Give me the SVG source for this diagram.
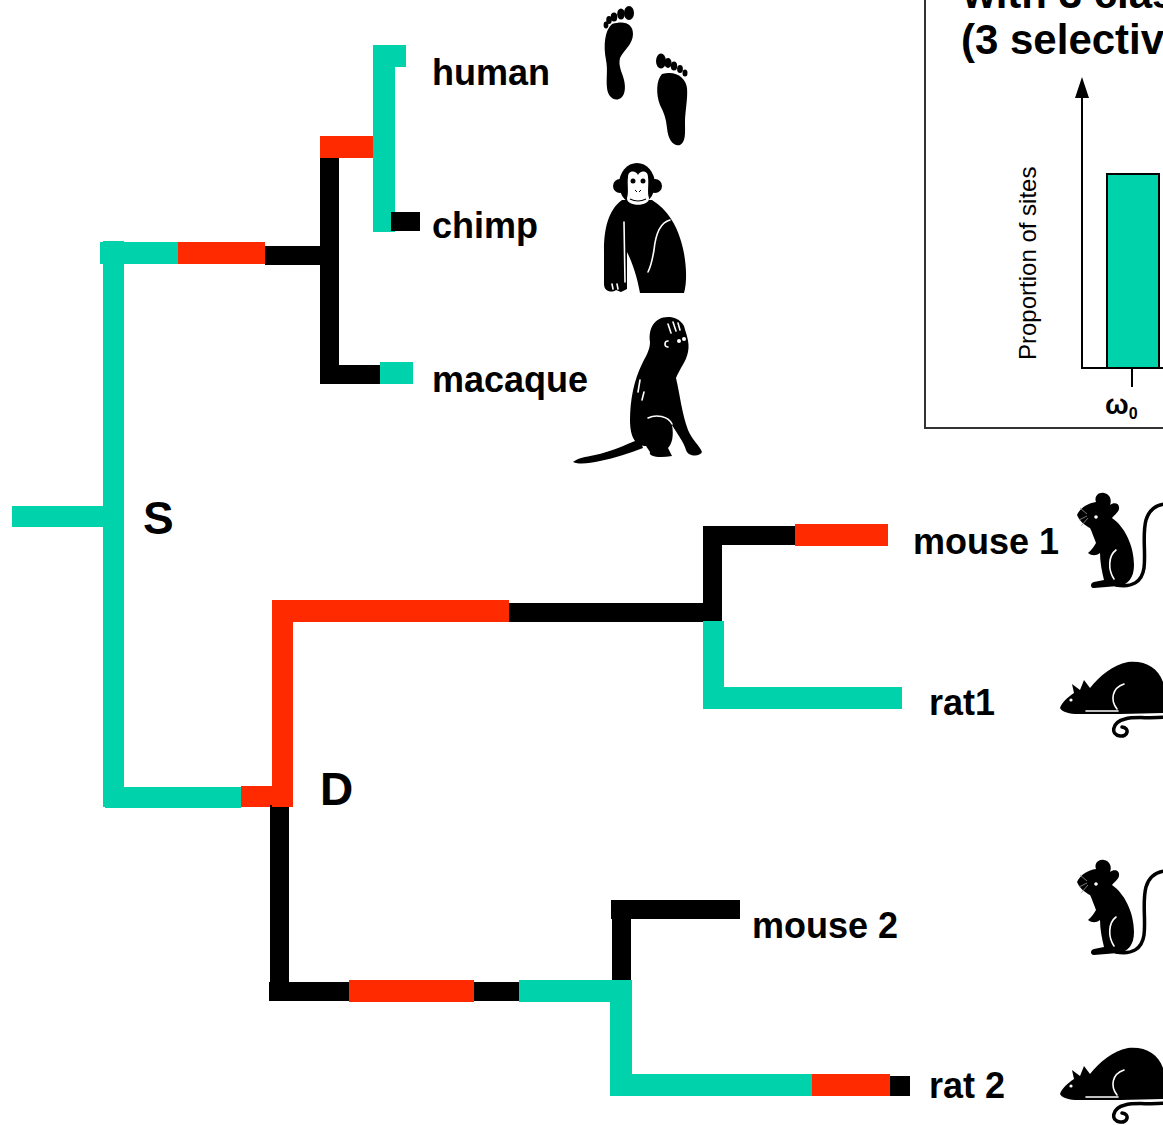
<svg xmlns="http://www.w3.org/2000/svg" width="1163" height="1125" viewBox="0 0 1163 1125">
  <style>
    .t { fill: #00D3AB; }
    .r { fill: #FF2A00; }
    .k { fill: #000000; }
    .lbl { font-family: "Liberation Sans", Arial, sans-serif; font-weight: bold; font-size: 36px; fill: #000; }
    .node { font-family: "Liberation Sans", Arial, sans-serif; font-weight: bold; font-size: 46px; fill: #000; }
    .title { font-family: "Liberation Sans", Arial, sans-serif; font-weight: bold; font-size: 42px; fill: #000; }
    .axis { stroke: #000; stroke-width: 2; fill: none; }
    .sil { fill: #000; }
    .wline { fill: none; stroke: #fff; stroke-width: 1.6; stroke-linecap: round; }
    .tail { fill: none; stroke: #000; stroke-width: 3.5; stroke-linecap: round; }
  </style>
  <defs>
    <marker id="arrow" markerUnits="userSpaceOnUse" markerWidth="22" markerHeight="14" refX="8" refY="7" orient="auto" viewBox="0 0 21 14">
      <path d="M0,0 L21,7 L0,14 Z" fill="#000"/>
    </marker>
    <!-- standing mouse silhouette -->
    <g id="mouse-shape">
      <path class="sil" d="M1077,515 C1080,508 1088,503 1096,502 C1094,497 1098,492 1104,493 C1110,494 1112,500 1110,505 C1114,502 1120,503 1119,509 C1118,513 1114,515 1112,518 C1124,526 1134,545 1134,565 C1134,578 1128,585 1118,586 L1094,588 C1090,588 1090,583 1094,582 L1104,580 C1102,572 1100,562 1100,553 C1096,556 1092,556 1088,553 C1092,550 1094,546 1096,543 C1094,538 1092,532 1090,528 C1086,526 1080,522 1077,515 Z"/>
      <path class="tail" d="M1116,585 C1132,588 1142,582 1144,568 C1146,552 1142,535 1146,520 C1149,510 1156,505 1165,504"/>
      <circle cx="1096" cy="517" r="1.8" fill="#fff"/>
      <path class="wline" stroke-width="2" d="M1114,579 C1108,570 1108,556 1116,550"/>
      <path d="M1080,508 L1087,514 M1079,520 L1087,516 M1081,526 L1088,518" stroke="#999" stroke-width="0.8" fill="none"/>
    </g>
    <!-- crouching rat silhouette -->
    <g id="rat-shape">
      <path class="sil" d="M1060,708 C1062,702 1068,697 1074,693 L1072,684 L1080,690 L1084,680 L1090,688 C1100,676 1112,665 1128,662 C1148,660 1162,670 1165,690 L1165,713 L1120,714 L1078,714 C1070,714 1062,712 1060,708 Z"/>
      <circle cx="1071" cy="700" r="1.6" fill="#fff"/>
      <path class="wline" stroke-width="2.5" d="M1117,709 C1110,700 1112,688 1124,684"/>
      <path class="wline" stroke-width="1.5" d="M1086,711 L1118,711"/>
      <path class="tail" d="M1165,717 C1150,719 1135,716 1125,719 C1112,722 1110,735 1120,736 C1128,737 1130,728 1122,727"/>
    </g>
  </defs>

  <rect width="1163" height="1125" fill="#fff"/>

  <!-- branches of the gene tree, coloured by selective regime -->
  <g id="connectors">
    <rect class="t" x="12" y="506" width="93" height="21"/>
    <rect class="t" x="103" y="241" width="21" height="566"/>
    <rect class="t" x="100" y="242" width="78" height="22"/>
    <rect class="r" x="178" y="242" width="87" height="22"/>
    <rect class="k" x="265" y="246" width="74" height="19"/>
    <rect class="k" x="320" y="137" width="19" height="247"/>
    <rect class="r" x="320" y="136" width="56" height="22"/>
    <rect class="t" x="373" y="45" width="22" height="187"/>
    <rect class="t" x="373" y="45" width="33" height="22"/>
    <rect class="k" x="391" y="212" width="29" height="19"/>
    <rect class="k" x="321" y="365" width="59" height="19"/>
    <rect class="t" x="380" y="362" width="33" height="22"/>

    <rect class="t" x="105" y="787" width="136" height="21"/>
    <rect class="r" x="241" y="786" width="49" height="21"/>
    <rect class="k" x="270" y="805" width="19" height="196"/>
    <rect class="r" x="272" y="600" width="21" height="207"/>
    <rect class="r" x="272" y="600" width="237" height="22"/>
    <rect class="k" x="509" y="603" width="213" height="19"/>
    <rect class="k" x="703" y="526" width="19" height="96"/>
    <rect class="k" x="704" y="526" width="91" height="19"/>
    <rect class="r" x="795" y="524" width="93" height="22"/>
    <rect class="t" x="703" y="621" width="21" height="88"/>
    <rect class="t" x="703" y="687" width="199" height="22"/>

    <rect class="k" x="269" y="982" width="80" height="19"/>
    <rect class="r" x="349" y="980" width="125" height="22"/>
    <rect class="k" x="474" y="982" width="45" height="19"/>
    <rect class="t" x="519" y="980" width="113" height="22"/>
    <rect class="k" x="612" y="900" width="19" height="80"/>
    <rect class="k" x="611" y="900" width="129" height="19"/>
    <rect class="t" x="610" y="1002" width="22" height="94"/>
    <rect class="t" x="611" y="1074" width="201" height="22"/>
    <rect class="r" x="812" y="1074" width="78" height="22"/>
    <rect class="k" x="890" y="1076" width="20" height="20"/>
  </g>

  <!-- internal nodes -->
  <g id="node-S"><text class="node" x="143" y="534">S</text></g>
  <g id="node-D"><text class="node" x="320" y="805">D</text></g>

  <!-- leaves -->
  <g id="leaf-human">
    <text class="lbl" x="432" y="85">human</text>
    <path class="sil" d="M612,24 C605,30 603,45 606,60 C608,70 606,78 607,88 C608,97 614,101 619,99 C625,97 626,88 624,80 C622,72 618,66 620,58 C624,50 633,44 633,34 C633,24 625,20 612,24 Z"/>
    <ellipse class="sil" cx="629" cy="13" rx="5" ry="7"/>
    <ellipse class="sil" cx="621" cy="14" rx="3.8" ry="5.5"/>
    <ellipse class="sil" cx="614" cy="17" rx="3.3" ry="4.5"/>
    <ellipse class="sil" cx="609" cy="20" rx="2.8" ry="4"/>
    <ellipse class="sil" cx="606" cy="25" rx="2.4" ry="3.4"/>
    <path class="sil" d="M662,74 C656,80 656,95 660,105 C664,113 666,118 667,128 C668,140 674,147 680,145 C686,142 685,132 685,122 C685,112 688,98 687,88 C686,78 676,70 662,74 Z"/>
    <ellipse class="sil" cx="661" cy="61" rx="5" ry="7.5"/>
    <ellipse class="sil" cx="668" cy="63" rx="3.6" ry="5"/>
    <ellipse class="sil" cx="674" cy="66" rx="3.2" ry="4.5"/>
    <ellipse class="sil" cx="680" cy="69" rx="2.9" ry="4"/>
    <ellipse class="sil" cx="685" cy="73" rx="2.5" ry="3.5"/>
  </g>

  <g id="leaf-chimp">
    <text class="lbl" x="432" y="238">chimp</text>
    <path class="sil" d="M622,200 C608,210 604,230 604,250 L604,284 C604,292 612,293 616,290 L621,292 L627,289 L627,252 C632,262 637,276 640,293 L684,293 C688,280 686,255 680,238 C676,225 668,210 652,200 Z"/>
    <ellipse class="sil" cx="637" cy="184" rx="18" ry="21"/>
    <circle class="sil" cx="620" cy="186" r="7"/>
    <circle class="sil" cx="655" cy="186" r="7"/>
    <path fill="#fff" d="M628,177 C628,170 636,170 638,175 C640,170 648,170 648,177 C649,184 647,192 649,198 C650,207 626,207 627,198 C629,192 627,184 628,177 Z"/>
    <circle class="sil" cx="633" cy="181" r="2.5"/>
    <circle class="sil" cx="643" cy="181" r="2.5"/>
    <path d="M635,190 L637,192 M641,190 L639,192" stroke="#000" stroke-width="1"/>
    <path d="M630,199 Q638,203 646,199" stroke="#000" stroke-width="1.2" fill="none"/>
    <path class="wline" d="M624,222 L625,282"/>
    <path class="wline" d="M670,220 C662,222 656,230 654,250 C652,262 650,268 648,272"/>
    <path class="wline" stroke-width="1" d="M612,284 L613,289 M617,284 L618,289"/>
  </g>

  <g id="leaf-macaque">
    <text class="lbl" x="432" y="392">macaque</text>
    <path class="sil" d="M668,317 C655,317 648,328 650,342 C650,350 646,356 642,364 C634,380 630,400 630,420 C630,438 636,446 646,446 L650,452 C648,457 660,458 672,456 L668,448 C672,444 674,436 672,425 C676,432 684,442 686,450 C688,457 700,457 702,452 C700,446 692,440 688,430 C682,414 680,395 676,378 C680,368 686,362 688,352 C690,342 686,334 684,326 C680,319 674,317 668,317 Z"/>
    <path class="sil" d="M640,439 C625,445 610,452 595,455 C585,457 578,458 573,462 C580,465 590,463 600,461 C615,458 630,453 643,448 Z"/>
    <path class="wline" d="M668,341 C664,341 664,347 668,347"/>
    <circle cx="679" cy="341" r="2" fill="#fff"/>
    <circle cx="684" cy="339" r="2" fill="#fff"/>
    <path class="wline" d="M668,324 L671,333 M673,322 L676,331 M678,323 L680,330"/>
    <path class="wline" d="M648,418 C656,414 668,416 672,424"/>
    <path class="wline" stroke-width="1" d="M640,380 L638,392 M644,392 L642,400"/>
  </g>

  <g id="leaf-mouse1">
    <text class="lbl" x="913" y="554">mouse 1</text>
    <use href="#mouse-shape"/>
  </g>
  <g id="leaf-rat1">
    <text class="lbl" x="929" y="715">rat1</text>
    <use href="#rat-shape"/>
  </g>
  <g id="leaf-mouse2">
    <text class="lbl" x="752" y="938">mouse 2</text>
    <use href="#mouse-shape" transform="translate(0,367)"/>
  </g>
  <g id="leaf-rat2">
    <text class="lbl" x="929" y="1098">rat 2</text>
    <use href="#rat-shape" transform="translate(0,386)"/>
  </g>

  <!-- inset: distribution of sites across classes -->
  <g id="inset">
    <rect x="925" y="-10" width="300" height="438" fill="#fff" stroke="#333" stroke-width="2"/>
    <text class="title" x="963" y="8">with 3 classes</text>
    <text class="title" x="961" y="54">(3 selective</text>
    <line class="axis" x1="1082" y1="368" x2="1082" y2="90" marker-end="url(#arrow)"/>
    <line class="axis" x1="1081" y1="368" x2="1170" y2="368"/>
    <rect x="1107" y="174" width="52" height="194" fill="#00D3AB" stroke="#000" stroke-width="2"/>
    <line class="axis" x1="1132" y1="368" x2="1132" y2="387"/>
    <text x="1036" y="360" transform="rotate(-90 1036 360)" font-family="'Liberation Sans', Arial, sans-serif" font-size="24" fill="#000">Proportion of sites</text>
    <text x="1105" y="414" font-family="'Liberation Sans', Arial, sans-serif" font-weight="bold" font-size="28" fill="#000">ω<tspan font-size="16" dy="5">0</tspan></text>
  </g>
</svg>
